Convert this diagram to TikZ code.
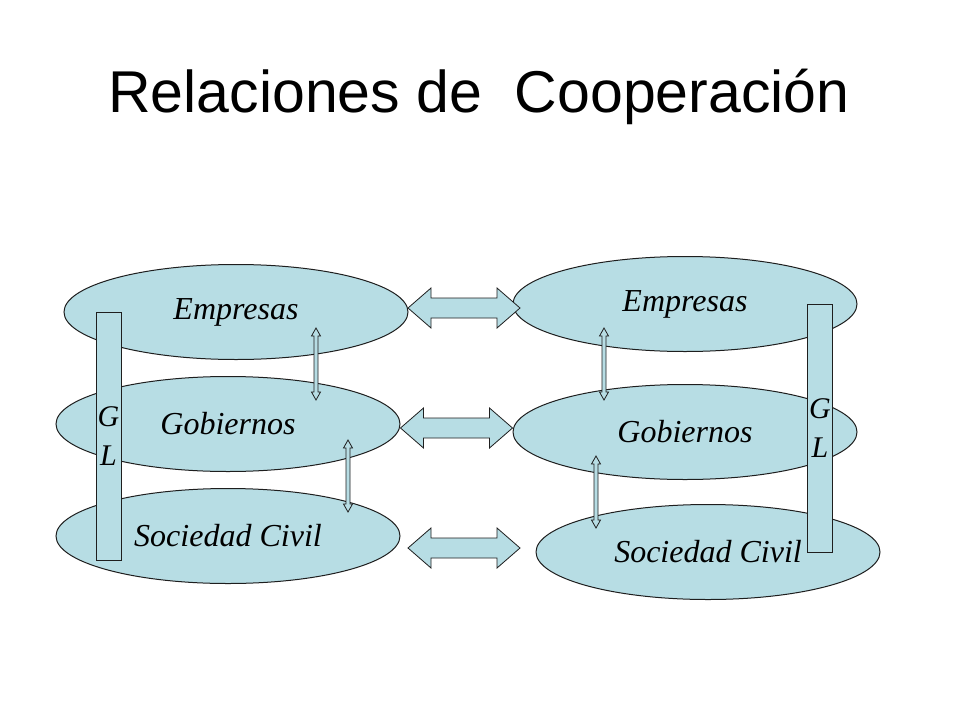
\documentclass[tikz,border=0pt]{standalone}
\usepackage{fontspec}
\setmainfont{Liberation Serif}
\newfontfamily\titlefont{Liberation Sans}
\usetikzlibrary{shapes.geometric}
\definecolor{ellfill}{RGB}{183,221,228}
\definecolor{edgecol}{RGB}{30,30,30}
\begin{document}
\begin{tikzpicture}[x=1pt,y=-1pt,
  ell/.style={ellipse, draw=edgecol, fill=ellfill, line width=1pt,
    minimum width=344pt, minimum height=95pt, inner sep=0pt,
    font=\fontsize{32}{36}\selectfont\itshape},
  glbox/.style={draw=edgecol, fill=ellfill, line width=1pt, inner sep=0pt,
    minimum width=25pt, minimum height=248pt, align=center,
    font=\fontsize{30}{39}\selectfont\itshape},
  blockarrow/.style={draw=edgecol, fill=ellfill, line width=0.8pt, line join=miter},
  hdbl/.pic={\path[blockarrow] (-56,0) -- (-33,-20) -- (-33,-10) -- (33,-10) -- (33,-20)
     -- (56,0) -- (33,20) -- (33,10) -- (-33,10) -- (-33,20) -- cycle;},
  vdbl/.pic={\path[blockarrow] (0,-36) -- (4.5,-28) -- (2,-28) -- (2,28) -- (4.5,28)
     -- (0,36) -- (-4.5,28) -- (-2,28) -- (-2,-28) -- (-4.5,-28) -- cycle;}]
\useasboundingbox[fill=white] (0,0) rectangle (960,720);
\node[font=\titlefont\fontsize{59}{70}\selectfont, anchor=base, inner sep=0pt]
  (title) at (479,112) {Relaciones de\ \ Cooperación};
% left group
\node[ell] (emp1) at (236,312) {Empresas};
\node[ell] (gob1) at (228,424) {Gobiernos};
\node[ell] (soc1) at (228,536) {Sociedad Civil};
% right group
\node[ell] (emp2) at (685,304) {Empresas};
\node[ell] (gob2) at (685,432) {Gobiernos};
\node[ell] (soc2) at (708,552) {Sociedad Civil};
% GL boxes
\node[glbox] (gl1) at (108.5,436) {G\\L};
\node[glbox] (gl2) at (820,428) {G\\L};
% horizontal block arrows
\pic at (464,308) {hdbl};
\pic at (456.5,428) {hdbl};
\pic at (464,548) {hdbl};
% vertical arrows
\pic at (316,364) {vdbl};
\pic at (348,476) {vdbl};
\pic at (604,364) {vdbl};
\pic at (596,492) {vdbl};
\end{tikzpicture}
\end{document}
